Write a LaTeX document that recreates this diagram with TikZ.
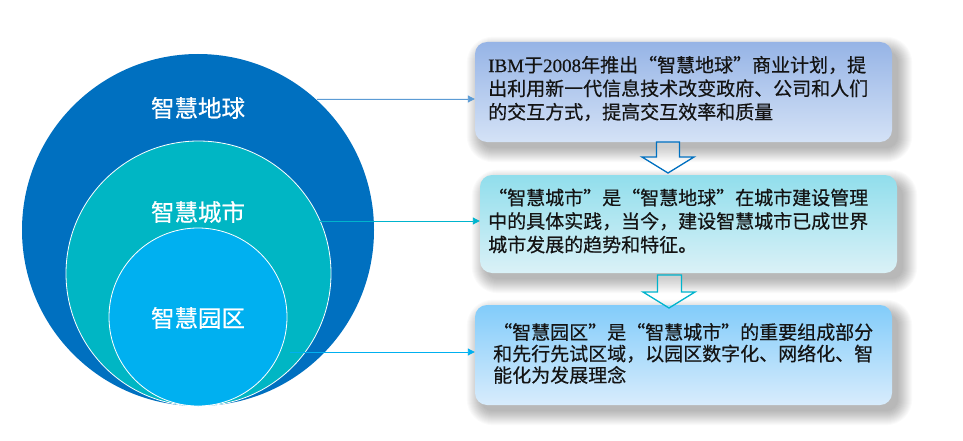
\documentclass[tikz,border=0pt]{standalone}
\usepackage{fontspec}
\newfontfamily\cjk[FakeBold=0.5]{Noto Sans CJK SC}
\newfontfamily\cjklabel[FakeBold=0.6]{Noto Sans CJK SC}
\newfontfamily\latser[FakeBold=0.4]{Liberation Serif}
\usetikzlibrary{arrows.meta,calc,backgrounds}
\definecolor{earthc}{RGB}{0,112,192}
\definecolor{cityc}{RGB}{0,182,196}
\definecolor{parkc}{RGB}{0,176,240}
\definecolor{arr1}{RGB}{91,155,213}
\definecolor{arr2}{RGB}{0,180,205}
\definecolor{arr3}{RGB}{0,176,240}
\definecolor{txtc}{RGB}{20,20,20}
\tikzset{
  ring/.style={circle, inner sep=0pt},
  ringlabel/.style={text=white, font=\cjklabel\fontsize{23.5}{27}\selectfont},
  infobox/.style={rounded corners=12pt, minimum width=417pt, minimum height=100pt},
  infotext/.style={anchor=west, align=left, inner sep=0pt, text=txtc,
    font=\cjk\fontsize{19}{23.5}\selectfont},
  link/.style={-{Triangle[length=7pt,width=7pt]}, line width=0.9pt},
  downarrow/.style={line width=1.3pt, fill=white, fill opacity=0.35, draw opacity=1, line join=miter},
  shadowpiece/.style={fill=black, fill opacity=0.018}
}
\newcommand{\softshadowof}[1]{%
  \foreach \i in {0,...,14}{%
    \fill[shadowpiece, rounded corners={12pt+\i pt}]
      ($(#1.south west)+(6-\i,6+\i)$) rectangle ($(#1.north east)+(6+\i,9-\i)$);
  }%
}
\begin{document}
\begin{tikzpicture}[x=1pt,y=-1pt]
\useasboundingbox (0,0) rectangle (963,441);

% circles
\node[ring, fill=earthc, minimum size=352pt] (earth) at (198,230) {};
\node[ring, fill=cityc, draw=white, line width=0.8pt, minimum size=265pt] (city) at (198.5,273.5) {};
\node[ring, fill=parkc, draw=white, line width=0.8pt, minimum size=178pt] (park) at (198,317) {};
\node[ringlabel] (lEarth) at (198,108) {智慧地球};
\node[ringlabel] (lCity) at (198,212) {智慧城市};
\node[ringlabel] (lPark) at (198,318) {智慧园区};

% boxes
\node[infobox, top color={rgb,255:red,150;green,180;blue,230}, bottom color={rgb,255:red,212;green,226;blue,246}] (b1) at (683.5,92) {};
\node[infobox, minimum height=98pt, top color={rgb,255:red,145;green,222;blue,236}, bottom color={rgb,255:red,218;green,241;blue,247}] (b2) at (688.5,224) {};
\node[infobox, top color={rgb,255:red,130;green,204;blue,250}, bottom color={rgb,255:red,216;green,236;blue,252}] (b3) at (683.5,355) {};

\begin{pgfonlayer}{background}
  \fill[white] (0,0) rectangle (963,441);
  \softshadowof{b1}
  \softshadowof{b2}
  \softshadowof{b3}
\end{pgfonlayer}

% texts
\node[infotext] (t1) at (488,88.5) {{\latser IBM}于{\latser 2008}年推出“智慧地球”商业计划，提\\出利用新一代信息技术改变政府、公司和人们\\的交互方式，提高交互效率和质量};
\node[infotext] (t2) at (488,221) {“智慧城市”是“智慧地球”在城市建设管理\\中的具体实践，当今，建设智慧城市已成世界\\城市发展的趋势和特征。};
\node[infotext, font=\cjk\fontsize{19}{21.5}\selectfont] (t3) at (493,353.5) {“智慧园区”是“智慧城市”的重要组成部分\\和先行先试区域，以园区数字化、网络化、智\\能化为发展理念};

% connectors
\coordinate (s1) at (317,99);
\coordinate (s2) at (320,221);
\coordinate (s3) at (290,352);
\draw[link, draw=arr1, fill=arr1] (s1) -- (s1 -| b1.west);
\draw[link, draw=arr2, fill=arr2] (s2) -- (s2 -| b2.west);
\draw[link, draw=arr3, fill=arr3] (s3) -- (s3 -| b3.west);

% down block arrows
\draw[downarrow, draw=earthc] (656.5,142) -- (679.5,142) -- (679.5,157) -- (694,157) -- (668,173) -- (642,157) -- (656.5,157) -- cycle;
\draw[downarrow, draw=arr2] (657.5,275) -- (681.5,275) -- (681.5,292) -- (695,292) -- (669,308) -- (643,292) -- (657.5,292) -- cycle;
\end{tikzpicture}
\end{document}
